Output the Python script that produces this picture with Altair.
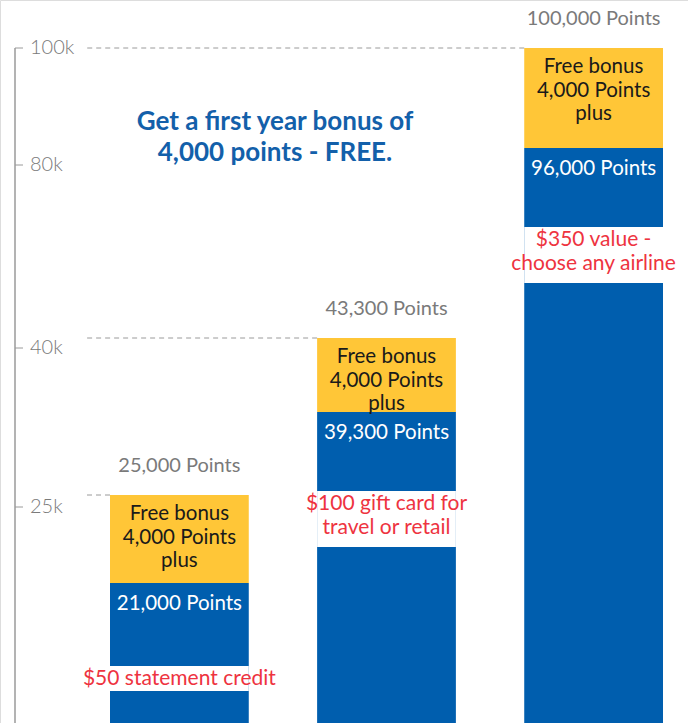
import altair as alt
import pandas as pd

# ---- data ----
tiers = ["25,000 Points", "43,300 Points", "100,000 Points"]
totals = [25000, 43300, 100000]
bonus_points = 4000
base_points = [21000, 39300, 96000]
base_labels = ["21,000 Points", "39,300 Points", "96,000 Points"]
rewards = [["$50 statement credit"],
           ["$100 gift card for", "travel or retail"],
           ["$350 value -", "choose any airline"]]
bonus_lines = ["Free bonus", "4,000 Points", "plus"]
title_lines = ["Get a first year bonus of", "4,000 points - FREE."]
axis_ticks = [25000, 40000, 80000, 100000]
axis_labels = ["25k", "40k", "80k", "100k"]

# ---- styles ----
BLUE = "#005EAE"
YELLOW = "#FFC637"
RED = "#EE3340"
GRAY = "#7A7A7A"
AXIS_GRAY = "#9A9A9A"
TITLE_BLUE = "#1360AA"
FONT = "Lato"

W, H = 688, 723

df = pd.DataFrame({
    "tier": tiers,
    "total": totals,
    "base": base_points,
    "zero": [0] * len(tiers),
    "base_label": base_labels,
    "reward": ["\n".join(r) for r in rewards],
    "nlines": [len(r) for r in rewards],
    "bonus": ["\n".join(bonus_lines)] * len(tiers),
})

# infographic (not-to-scale) piecewise value scale
dom = sorted([0] + base_points + totals)
y_scale = alt.Scale(domain=dom, range=[723, 583, 495, 412, 338, 148, 48],
                    zero=False, nice=False)
axis_scale = alt.Scale(domain=[0] + axis_ticks, range=[723, 507, 348, 165, 48],
                       zero=False, nice=False)
x_scale = alt.Scale(domain=tiers, range=[110, 663], paddingInner=0.33, paddingOuter=0)

X = alt.X("tier:N", scale=x_scale, axis=None, sort=tiers)
base = alt.Chart(df)

blue = base.mark_bar(color=BLUE).encode(
    x=X, y=alt.Y("base:Q", scale=y_scale, axis=None), y2="zero:Q")
yellow = base.mark_bar(color=YELLOW).encode(
    x=X, y=alt.Y("total:Q", scale=y_scale, axis=None), y2="base:Q")
gap1 = base.transform_filter("datum.nlines == 1").mark_bar(
    color="white", yOffset=83, y2Offset=108).encode(
    x=X, y=alt.Y("base:Q", scale=y_scale, axis=None), y2="base:Q")
gap2 = base.transform_filter("datum.nlines == 2").mark_bar(
    color="white", yOffset=79, y2Offset=135).encode(
    x=X, y=alt.Y("base:Q", scale=y_scale, axis=None), y2="base:Q")
red1 = base.transform_filter("datum.nlines == 1").mark_text(
    color=RED, font=FONT, fontSize=21, baseline="middle", dy=96, lineBreak="\n").encode(
    x=X, y=alt.Y("base:Q", scale=y_scale, axis=None), text="reward:N")
red2 = base.transform_filter("datum.nlines == 2").mark_text(
    color=RED, font=FONT, fontSize=21, baseline="middle", dy=92, lineBreak="\n",
    lineHeight=24).encode(
    x=X, y=alt.Y("base:Q", scale=y_scale, axis=None), text="reward:N")
top_lbl = base.mark_text(color=GRAY, font=FONT, fontSize=20, baseline="middle", dy=-29).encode(
    x=X, y=alt.Y("total:Q", scale=y_scale, axis=None), text="tier:N")
bonus_lbl = base.mark_text(color="#1a1a1a", font=FONT, fontSize=20.5, baseline="middle",
                           dy=19, lineBreak="\n", lineHeight=23.5).encode(
    x=X, y=alt.Y("total:Q", scale=y_scale, axis=None), text="bonus:N")
base_lbl = base.mark_text(color="white", font=FONT, fontSize=20.5, baseline="middle", dy=21).encode(
    x=X, y=alt.Y("base:Q", scale=y_scale, axis=None), text="base_label:N")
dashes = base.mark_rule(color=AXIS_GRAY, strokeDash=[5, 4], strokeWidth=1).encode(
    x=alt.X("tier:N", scale=x_scale, axis=None, sort=tiers, bandPosition=0),
    x2=alt.value(85),
    y=alt.Y("total:Q", scale=y_scale, axis=None))

adf = pd.DataFrame({"v": axis_ticks, "lab": axis_labels})
line_df = pd.DataFrame({"top": [max(axis_ticks)], "bottom": [0]})
axis_line = alt.Chart(line_df).mark_rule(color=AXIS_GRAY, strokeWidth=1.5).encode(
    x=alt.value(15), y=alt.Y("top:Q", scale=axis_scale, axis=None), y2="bottom:Q")
ticks = alt.Chart(adf).mark_rule(color=AXIS_GRAY, strokeWidth=1).encode(
    x=alt.value(15), x2=alt.value(23), y=alt.Y("v:Q", scale=axis_scale, axis=None))
tick_lbl = alt.Chart(adf).mark_text(color=GRAY, font=FONT, fontSize=20, fontWeight=300,
                                    align="left", baseline="middle").encode(
    x=alt.value(30), y=alt.Y("v:Q", scale=axis_scale, axis=None), text="lab:N")

chart = alt.layer(
    blue, yellow, gap1, gap2, red1, red2, top_lbl, bonus_lbl, base_lbl, dashes,
    axis_line, ticks, tick_lbl
).resolve_scale(y="independent").properties(
    width=W, height=H,
    autosize=alt.AutoSizeParams(type="none"),
    padding=0,
    title=alt.TitleParams(text=title_lines, anchor="middle", dx=-69, dy=170,
                          fontSize=26, font=FONT, fontWeight=700, color=TITLE_BLUE,
                          lineHeight=31),
).configure_view(stroke=None).configure(background="white")

chart.save("out.html", embed_options={"renderer": "svg", "actions": False})
